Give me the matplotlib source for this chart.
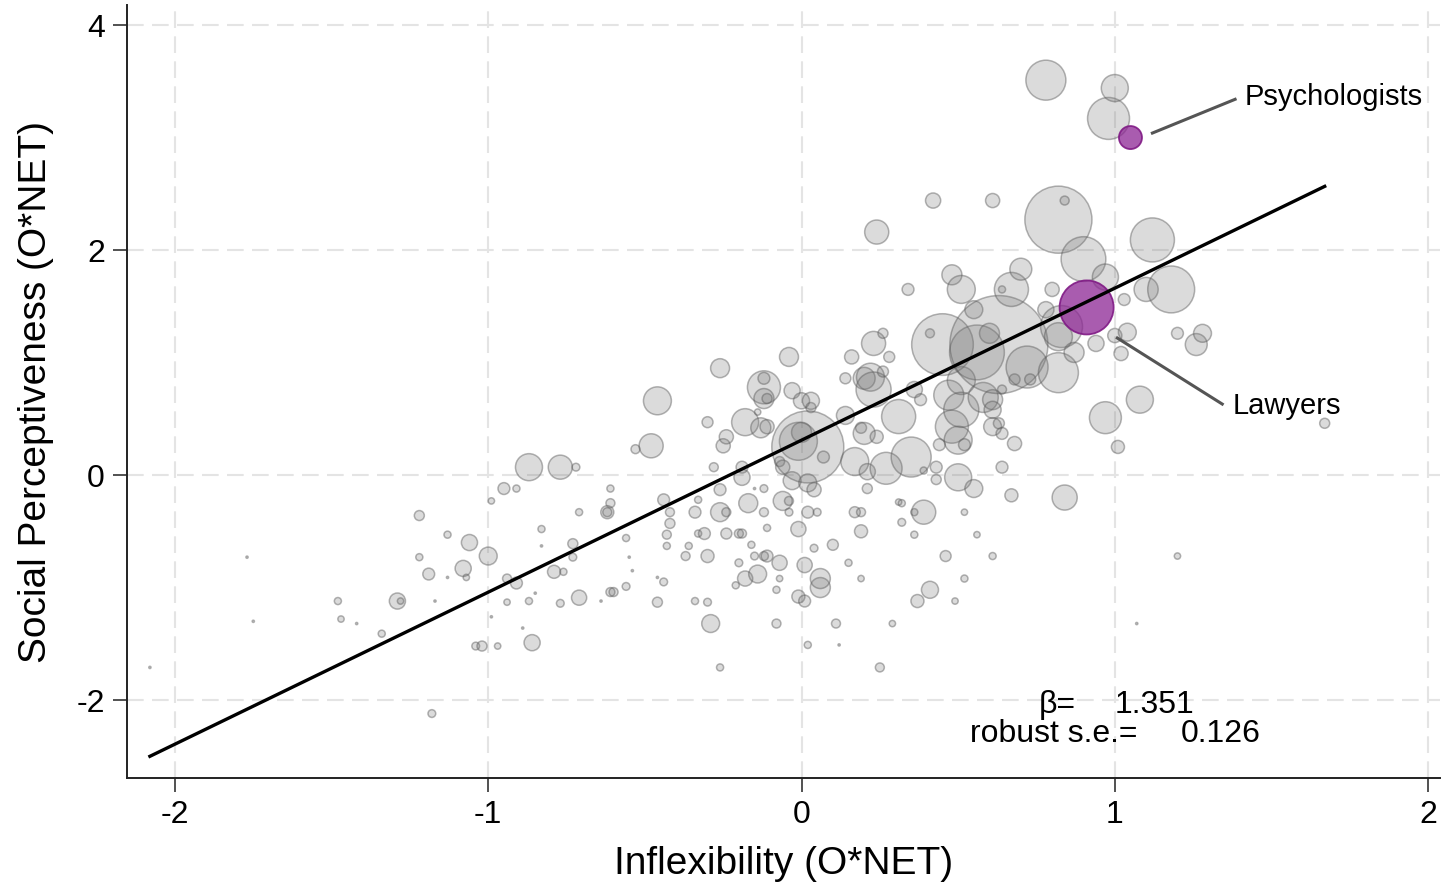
import numpy as np
import matplotlib.pyplot as plt

# occupation-level O*NET scores, bubble area ~ employment
infl = [-2.08, -1.77, -1.75, -1.48, -1.47, -1.42, -1.34, -1.29, -1.28, -1.22,
        -1.22, -1.19, -1.18, -1.17, -1.13, -1.13, -1.08, -1.07, -1.06, -1.04,
        -1.02, -1.00, -0.99, -0.99, -0.97, -0.95, -0.94, -0.94, -0.91, -0.91,
        -0.89, -0.87, -0.87, -0.86, -0.85, -0.83, -0.83, -0.79, -0.77, -0.77,
        -0.76, -0.73, -0.73, -0.72, -0.71, -0.71, -0.64, -0.62, -0.62, -0.61,
        -0.61, -0.61, -0.60, -0.56, -0.56, -0.55, -0.54, -0.53, -0.48, -0.46,
        -0.46, -0.46, -0.44, -0.44, -0.43, -0.43, -0.42, -0.42, -0.37, -0.36,
        -0.34, -0.34, -0.33, -0.33, -0.31, -0.30, -0.30, -0.30, -0.29, -0.28,
        -0.26, -0.26, -0.26, -0.26, -0.24, -0.25, -0.24, -0.24, -0.21, -0.20,
        -0.20, -0.19, -0.19, -0.19, -0.18, -0.18, -0.17, -0.16, -0.15, -0.15,
        -0.14, -0.14, -0.13, -0.12, -0.12, -0.12, -0.11, -0.11, -0.12, -0.12,
        -0.12, -0.11, -0.11, -0.08, -0.08, -0.07, -0.07, -0.07, -0.06, -0.06,
        -0.04, -0.04, -0.04, -0.03, -0.03, -0.01, -0.01, -0.01, 0.00, 0.00,
        0.01, 0.01, 0.02, 0.02, 0.02, 0.02, 0.03, 0.03, 0.04, 0.04,
        0.05, 0.06, 0.06, 0.07, 0.10, 0.11, 0.12, 0.14, 0.14, 0.15,
        0.16, 0.17, 0.17, 0.19, 0.19, 0.19, 0.19, 0.20, 0.20, 0.21,
        0.21, 0.22, 0.23, 0.23, 0.24, 0.24, 0.25, 0.26, 0.26, 0.27,
        0.28, 0.29, 0.31, 0.31, 0.32, 0.32, 0.34, 0.35, 0.36, 0.36,
        0.36, 0.37, 0.38, 0.39, 0.39, 0.41, 0.41, 0.42, 0.43, 0.43,
        0.44, 0.45, 0.46, 0.47, 0.48, 0.48, 0.49, 0.50, 0.50, 0.51,
        0.51, 0.51, 0.52, 0.52, 0.52, 0.55, 0.55, 0.56, 0.56, 0.58,
        0.60, 0.61, 0.61, 0.61, 0.61, 0.61, 0.63, 0.63, 0.64, 0.64,
        0.64, 0.64, 0.67, 0.67, 0.68, 0.68, 0.70, 0.72, 0.73, 0.78,
        0.78, 0.80, 0.82, 0.82, 0.83, 0.82, 0.84, 0.84, 0.87, 0.90,
        0.94, 0.97, 0.97, 0.98, 1.00, 1.00, 1.01, 1.02, 1.03, 1.04,
        1.08, 1.07, 1.10, 1.12, 1.18, 1.20, 1.20, 1.26, 1.28, 1.67]

social = [-1.71, -0.73, -1.30, -1.12, -1.28, -1.32, -1.41, -1.12, -1.12, -0.36,
          -0.73, -0.88, -2.12, -1.12, -0.53, -0.91, -0.83, -0.91, -0.60, -1.52,
          -1.52, -0.72, -1.26, -0.23, -1.52, -0.12, -1.13, -0.92, -0.12, -0.96,
          -1.36, 0.07, -1.12, -1.49, -1.05, -0.48, -0.63, -0.86, 0.07, -1.14,
          -0.86, -0.73, -0.61, 0.07, -0.33, -1.09, -1.12, -0.33, -0.33, -0.25,
          -0.12, -1.04, -1.04, -0.56, -0.99, -0.73, -0.85, 0.23, 0.26, 0.66,
          -0.91, -1.13, -0.95, -0.22, -0.53, -0.63, -0.43, -0.33, -0.72, -0.63,
          -0.33, -1.12, -0.52, -0.22, -0.52, 0.47, -0.72, -1.13, -1.32, 0.07,
          -0.13, 0.95, -1.71, -0.33, -0.33, 0.26, 0.34, -0.52, -0.98, -0.78,
          -0.52, -0.52, 0.07, -0.02, 0.47, -0.92, -0.25, -0.62, -0.72, -0.12,
          0.56, -0.88, 0.42, 0.78, 0.86, 0.68, 0.68, 0.43, -0.12, -0.33,
          -0.72, -0.72, -0.47, -1.02, -1.32, -0.78, -0.92, 0.12, 0.07, -0.23,
          -0.23, 1.05, -0.33, 0.75, -0.05, 0.30, -1.08, -0.48, 0.66, 0.38,
          -1.12, -0.80, 0.25, -0.07, -0.33, -1.51, 0.60, 0.66, -0.13, -0.65,
          -0.33, -1.00, -0.92, 0.16, -0.62, -1.32, -1.51, 0.86, 0.53, -0.78,
          1.05, 0.12, -0.33, -0.50, 0.42, -0.33, -0.92, 0.37, 0.86, 0.03,
          -0.12, 0.87, 1.17, 0.76, 2.16, 0.34, -1.71, 1.26, 0.92, 0.06,
          1.05, -1.32, 0.52, -0.24, -0.42, -0.25, 1.65, 0.16, -0.33, -0.53,
          0.76, -1.12, 0.67, -0.33, 0.04, 1.26, -1.02, 2.44, 0.07, -0.04,
          0.27, 1.16, -0.72, 0.71, 1.78, 0.43, -1.12, 0.31, -0.02, 1.65,
          0.84, 0.58, -0.92, -0.33, 0.27, 1.47, -0.12, -0.53, 1.09, 0.69,
          1.26, 2.44, 0.67, 0.58, 0.43, -0.72, 1.16, 0.46, 1.65, 0.37,
          0.07, 0.76, 1.65, -0.18, 0.85, 0.28, 1.83, 0.96, 0.85, 1.47,
          3.51, 1.65, 2.27, 0.91, 1.32, 1.23, -0.20, 2.44, 1.09, 1.92,
          1.17, 1.76, 0.51, 3.17, 3.44, 1.24, 0.25, 1.08, 1.56, 1.27,
          0.67, -1.32, 1.65, 2.09, 1.65, -0.72, 1.26, 1.16, 1.26, 0.46]

emp = [0.05, 0.05, 0.05, 0.5, 0.4, 0.05, 0.5, 2.6, 0.4, 1.0,
       0.5, 1.4, 0.6, 0.05, 0.5, 0.05, 2.6, 0.4, 2.6, 0.6,
       1.0, 3.2, 0.05, 0.4, 0.4, 1.4, 0.4, 0.8, 0.5, 1.4,
       0.05, 7.3, 0.5, 2.6, 0.05, 0.5, 0.05, 1.7, 5.8, 0.6,
       0.5, 0.6, 1.0, 0.6, 0.5, 2.3, 0.05, 1.7, 0.8, 0.8,
       0.5, 0.8, 0.8, 0.5, 0.6, 0.05, 0.05, 0.8, 5.8, 7.8,
       0.05, 1.0, 0.6, 1.4, 0.8, 0.5, 1.0, 0.8, 0.8, 0.5,
       1.4, 0.5, 0.5, 0.5, 1.4, 1.2, 1.7, 0.6, 3.2, 0.8,
       1.4, 3.6, 0.5, 3.6, 0.8, 2.0, 2.0, 1.2, 0.5, 0.6,
       0.8, 0.8, 1.4, 2.6, 7.3, 2.3, 3.6, 0.5, 0.6, 0.05,
       0.4, 3.2, 4.0, 10.9, 1.4, 4.0, 1.0, 2.0, 0.6, 0.8,
       0.8, 1.4, 0.5, 0.5, 0.8, 2.3, 0.4, 1.0, 2.0, 3.6,
       0.8, 3.6, 0.6, 2.6, 3.2, 14.4, 1.7, 2.3, 2.6, 4.0,
       1.4, 2.3, 51.8, 3.2, 1.4, 0.5, 1.0, 2.9, 2.0, 0.6,
       0.6, 4.0, 4.0, 1.4, 1.2, 0.8, 0.05, 1.2, 3.2, 0.5,
       2.0, 7.8, 1.2, 1.7, 1.2, 0.8, 0.4, 4.8, 4.8, 2.6,
       1.0, 7.8, 5.8, 12.3, 5.8, 1.7, 0.8, 1.0, 1.2, 10.2,
       1.2, 0.4, 11.6, 0.4, 0.6, 0.5, 1.4, 16.0, 0.5, 0.5,
       2.6, 1.7, 1.4, 5.8, 0.5, 0.8, 2.9, 2.3, 1.4, 1.0,
       1.4, 38.0, 1.2, 9.0, 4.0, 10.9, 0.4, 7.8, 7.3, 7.8,
       7.8, 12.3, 0.5, 0.4, 1.4, 3.2, 3.2, 0.4, 30.0, 9.0,
       4.0, 2.0, 4.0, 2.9, 3.2, 0.5, 96.0, 1.2, 0.5, 1.4,
       1.4, 0.8, 11.6, 1.7, 1.2, 2.0, 4.8, 17.6, 1.2, 2.6,
       16.0, 2.0, 45.0, 16.0, 17.6, 7.8, 6.3, 0.8, 4.0, 20.0,
       2.6, 6.8, 10.2, 17.6, 7.3, 2.0, 1.7, 2.0, 1.4, 3.2,
       7.3, 0.05, 5.8, 19.4, 22.0, 0.4, 1.4, 4.8, 3.2, 1.0]

# highlighted occupations
hl_names = ["Psychologists", "Lawyers"]
hl_x = [1.05, 0.91]
hl_y = [3.00, 1.49]
hl_emp = [5.3, 29.2]

# fitted line (weighted OLS)
beta = 1.351
se = 0.126
const = 0.31

size_k = 51.84  # emp -> marker area (pt^2)

plt.rcParams['font.family'] = ['Liberation Sans', 'DejaVu Sans']
plt.rcParams['axes.unicode_minus'] = False

fig = plt.figure(figsize=(14.42, 8.83), dpi=100)
ax = fig.add_axes([0.0881, 0.1189, 0.9105, 0.8754])

x = np.array(infl)
y = np.array(social)
w = np.array(emp)

ax.scatter(x, y, s=w*size_k, facecolor=(0.45, 0.45, 0.45, 0.25),
           edgecolor=(0.35, 0.35, 0.35, 0.45), linewidth=1.1, zorder=2)
ax.scatter(hl_x, hl_y, s=np.array(hl_emp)*size_k, facecolor=(0.55, 0.15, 0.58, 0.75),
           edgecolor=(0.50, 0.10, 0.52, 0.9), linewidth=1.3, zorder=3)

xl = np.array([x.min(), x.max()])
ax.plot(xl, const + beta*xl, color='black', lw=2.4, zorder=4)

# labels for highlighted points
ax.plot([1.12, 1.384], [3.04, 3.34], color='#555555', lw=2.2, zorder=4)
ax.text(1.413, 3.36, hl_names[0], fontsize=21, va='center', ha='left')
ax.plot([1.008, 1.343], [1.218, 0.631], color='#555555', lw=2.2, zorder=4)
ax.text(1.375, 0.613, hl_names[1], fontsize=21, va='center', ha='left')

# regression stats
ax.text(0.756, -2.116, "β=", fontsize=23, va='baseline', ha='left')
ax.text(1.0, -2.116, "%.3f" % beta, fontsize=23, va='baseline', ha='left')
ax.text(0.539, -2.373, "robust s.e.=", fontsize=23, va='baseline', ha='left')
ax.text(1.209, -2.373, "%.3f" % se, fontsize=23, va='baseline', ha='left')

ax.set_xlim(-2.153, 2.038)
ax.set_ylim(-2.693, 4.178)
ax.set_xticks([-2, -1, 0, 1, 2])
ax.set_yticks([-2, 0, 2, 4])
ax.grid(True, color='#e4e4e4', lw=1.5, linestyle=(0, (8, 4)))
ax.set_axisbelow(True)

for sp in ['top', 'right']:
    ax.spines[sp].set_visible(False)
for sp in ['left', 'bottom']:
    ax.spines[sp].set_linewidth(1.4)
    ax.spines[sp].set_color('#222222')
ax.tick_params(axis='both', direction='out', length=10, width=1.1,
               color='#222222', labelsize=23, pad=6)

ax.set_xlabel("Inflexibility (O*NET)", fontsize=28, labelpad=11)
ax.set_ylabel("Social Perceptiveness (O*NET)", fontsize=28, labelpad=16)

fig.savefig("out.png", dpi=100)
